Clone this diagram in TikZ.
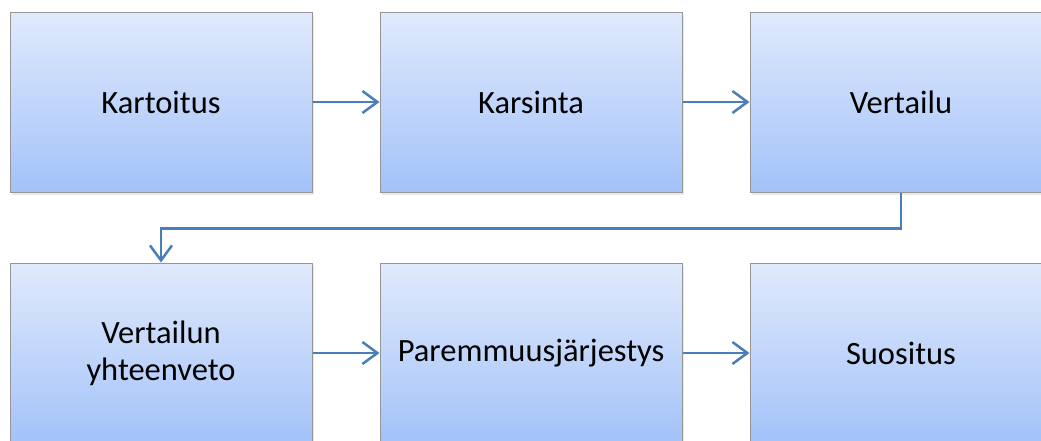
\documentclass[tikz,border=0pt]{standalone}
\usepackage{fontspec}
\setmainfont{Carlito}
\usetikzlibrary{
  arrows.meta,
  shadows,
  positioning,
}
\definecolor{boxtop}{RGB}{224,234,252}
\definecolor{boxbottom}{RGB}{163,194,249}
\definecolor{boxline}{RGB}{150,150,150}
\definecolor{flowblue}{RGB}{74,126,187}
\tikzset{
  stage/.style={
    rectangle,
    draw=boxline,
    line width=1pt,
    top color=boxtop,
    bottom color=boxbottom,
    minimum width=302pt,
    minimum height=180pt,
    inner sep=0pt,
    align=center,
    drop shadow={opacity=0.18, shadow xshift=1.5pt, shadow yshift=-3pt}
  },
  arrow/.style={
    draw=flowblue,
    line width=2.5pt,
    -{Straight Barb[length=15pt,width=22pt]}
  }
}

\begin{document}
\begin{tikzpicture}[x=1pt, y=-1pt, node distance=67pt and 67pt,
  font=\fontsize{32.5}{37}\selectfont]
  \useasboundingbox (0,0) rectangle (1041,440);
  % Place nodes
  \node [stage] (kartoitus) at (161,102) {Kartoitus};
  \node [stage, right=of kartoitus] (karsinta) {Karsinta};
  \node [stage, right=of karsinta] (vertailu) {Vertailu};

  \node [stage, below=70pt of kartoitus] (yhteenveto) {Vertailun\\yhteenveto};
  \node [stage, right=of yhteenveto] (jarjestys) {Paremmuusjärjestys};
  \node [stage, right=of jarjestys] (suositus) {Suositus};

  % Draw edges
  \path [arrow] (kartoitus) -- (karsinta);
  \path [arrow] (karsinta) -- (vertailu);
  \path [arrow] (vertailu.south) -- ++(0,36) -| (yhteenveto.north);
  \path [arrow] (yhteenveto) -- (jarjestys);
  \path [arrow] (jarjestys) -- (suositus);
\end{tikzpicture}
\end{document}
